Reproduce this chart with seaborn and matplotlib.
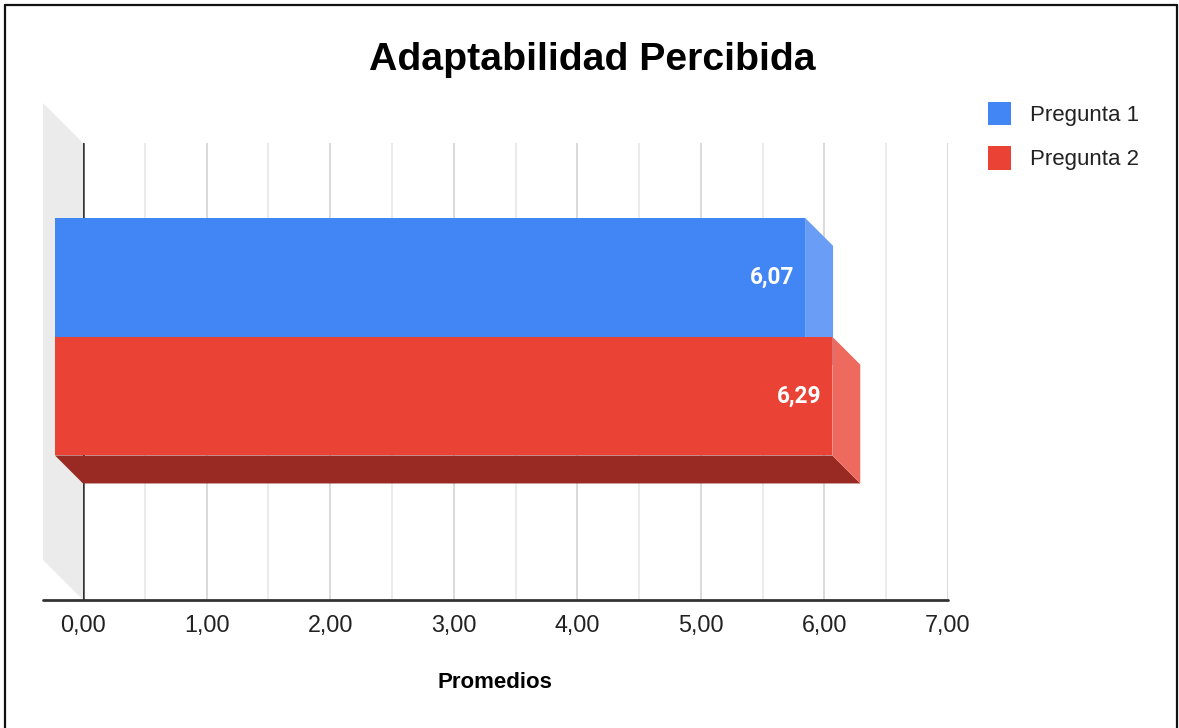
import numpy as np
import pandas as pd
import seaborn as sns
import matplotlib.pyplot as plt
from matplotlib.patches import Polygon, Patch
from matplotlib.lines import Line2D
from matplotlib.transforms import ScaledTranslation, IdentityTransform

# Dades
categoria = ["Adaptabilidad"]
series = ["Pregunta 1", "Pregunta 2"]
promedios = [6.07, 6.29]
etiquetes = ["6,07", "6,29"]
xticks = [0, 1, 2, 3, 4, 5, 6, 7]
xtick_labels = ["0,00", "1,00", "2,00", "3,00", "4,00", "5,00", "6,00", "7,00"]

colors_front = ["#4285F4", "#EA4335"]
colors_side = ["#6A9EF6", "#EE6A5E"]
colors_fons = ["#2F5FB3", "#982A23"]

W, H, DPI = 1179, 728, 100
DEPTH = 28  # px, profunditat 3D de les barres
WALL = 40   # px, profunditat de la paret esquerra

sns.set_theme(style="white")
plt.rcParams["font.family"] = ["Liberation Sans", "DejaVu Sans"]

fig = plt.figure(figsize=(W / DPI, H / DPI), dpi=DPI)
ax = fig.add_axes([83 / W, 1 - 600 / H, (948 - 83) / W, (600 - 143) / H])

df = pd.DataFrame({"cat": categoria * 2, "serie": series, "valor": promedios})
sns.barplot(data=df, x="valor", y="cat", hue="serie", hue_order=series,
            palette=colors_front, orient="h", width=0.52, saturation=1,
            legend=False, ax=ax, zorder=5)

ax.set_xlim(0, 7)
ax.set_ylim(0.515, -0.485)
ax.set_xticks(xticks, xtick_labels)
ax.set_xticks(np.arange(0.5, 7, 1), minor=True)
ax.set_yticks([])
ax.set_xlabel("")
ax.set_ylabel("")
ax.tick_params(axis="x", which="both", length=0, pad=10, labelsize=16.8,
               labelcolor="#222222")
ax.grid(axis="x", which="major", color="#cfcfcf", lw=1.1)
ax.grid(axis="x", which="minor", color="#e6e6e6", lw=1.1)
ax.set_axisbelow(True)
for s in ax.spines.values():
    s.set_visible(False)

off = np.array([-DEPTH, DEPTH])
front_tr = ax.transData + ScaledTranslation(-DEPTH / DPI, DEPTH / DPI, fig.dpi_scale_trans)

# paret gris esquerra
top = ax.transAxes.transform((0, 1))
bot = ax.transAxes.transform((0, 0))
wall = Polygon([top, top + [-WALL, WALL], bot + [-WALL, WALL], bot], closed=True,
               facecolor="#ebebeb", edgecolor="none", transform=IdentityTransform(),
               clip_on=False, zorder=0)
ax.add_patch(wall)

# línia del zero i eix inferior
ax.axvline(0, color="#333333", lw=1.8, zorder=3)
ax.add_line(Line2D([bot[0] - WALL, ax.transAxes.transform((1, 0))[0]], [bot[1], bot[1]],
                   color="#333333", lw=2, transform=IdentityTransform(), clip_on=False, zorder=3))

bars = list(ax.patches)[:2]
for i, p in enumerate(bars):
    x1 = p.get_x() + p.get_width()
    y_top = p.get_y()
    y_bot = p.get_y() + p.get_height()
    b_rt = ax.transData.transform((x1, y_top))
    b_rb = ax.transData.transform((x1, y_bot))
    b_lb = ax.transData.transform((0, y_bot))
    z = 4 + 2 * i
    # cara inferior
    ax.add_patch(Polygon([b_lb + off, b_rb + off, b_rb, b_lb], closed=True,
                         facecolor=colors_fons[i], edgecolor="none",
                         transform=IdentityTransform(), clip_on=False, zorder=z))
    # cara lateral
    ax.add_patch(Polygon([b_rt + off, b_rt, b_rb, b_rb + off], closed=True,
                         facecolor=colors_side[i], edgecolor="none",
                         transform=IdentityTransform(), clip_on=False, zorder=z))
    p.set_transform(front_tr)
    p.set_clip_on(False)
    p.set_zorder(z + 1)
    p.set_edgecolor("none")
    ax.text(x1, (y_top + y_bot) / 2, etiquetes[i],
            transform=ax.transData + ScaledTranslation((-DEPTH - 11) / DPI, DEPTH / DPI, fig.dpi_scale_trans),
            ha="right", va="center", color="white", fontsize=16.3,
            fontweight="bold", family=["Roboto", "DejaVu Sans"], zorder=10)

# títol i etiqueta de l'eix
fig.text(592 / W, 1 - 60 / H, "Adaptabilidad Percibida", ha="center", va="center",
         fontsize=28.3, fontweight="bold", color="#000000")
fig.text(495 / W, 1 - 682 / H, "Promedios", ha="center", va="center",
         fontsize=16, fontweight="bold", color="#000000")

# llegenda
handles = [Patch(facecolor=c, edgecolor="none", label=s) for c, s in zip(colors_front, series)]
fig.legend(handles=handles, loc="upper left", bbox_to_anchor=(988 / W, 1 - 102 / H),
           frameon=False, fontsize=16, handlelength=1.05, handleheight=1.22,
           handletextpad=0.85, labelspacing=0.92, borderpad=0, borderaxespad=0,
           labelcolor="#222222")

# vora de la imatge
for xs, ys in [([5, 5], [0, 723]), ([5, 1177], [723, 723]), ([1177, 1177], [723, 0])]:
    fig.add_artist(Line2D(xs, ys, color="#111111", lw=1.6, transform=IdentityTransform()))

fig.savefig("out.png", dpi=DPI)
